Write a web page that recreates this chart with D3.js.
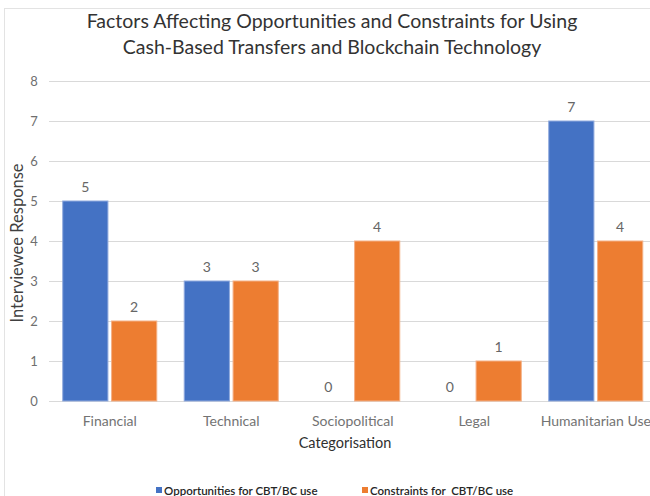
<!DOCTYPE html>
<html>
<head>
<meta charset="utf-8">
<script src="https://cdn.jsdelivr.net/npm/d3@7"></script>
<style>
  html, body { margin: 0; padding: 0; background: #fff; }
  svg { display: block; }
  text { font-family: "Lato", "Open Sans", sans-serif; }
</style>
</head>
<body>
<svg id="chart" width="650" height="496"></svg>
<script>
// Interview coding results by factor category
const categories = ["Financial", "Technical", "Sociopolitical", "Legal", "Humanitarian Use"];
const seriesNames = ["Opportunities for CBT/BC use", "Constraints for  CBT/BC use"];
const opportunities = [5, 3, 0, 0, 7];
const constraints = [2, 3, 4, 1, 4];
const yTicks = [0, 1, 2, 3, 4, 5, 6, 7, 8];
const colors = ["#4472C4", "#ED7D31"];

const svg = d3.select("#chart");
const W = 650, H = 496;
const plot = { left: 49, right: 656.5, top: 81, bottom: 401 };

// chart frame
svg.append("rect")
  .attr("x", 4.5).attr("y", 8.5).attr("width", 660).attr("height", 500)
  .attr("fill", "none").attr("stroke", "#e3e3e3");

const x0 = d3.scaleBand().domain(categories).range([plot.left, plot.right]).padding(0);
const x1 = d3.scaleBand().domain([0, 1])
  .range([x0.bandwidth() * 0.113, x0.bandwidth() * 0.887])
  .paddingInner(0.075);
const y = d3.scaleLinear().domain([0, 8]).range([plot.bottom, plot.top]);

// gridlines
svg.append("g")
  .selectAll("line").data(yTicks).join("line")
  .attr("x1", plot.left).attr("x2", W)
  .attr("y1", d => Math.round(y(d)) + 0.5).attr("y2", d => Math.round(y(d)) + 0.5)
  .attr("stroke", "#d9d9d9").attr("stroke-width", 1.2);

// y axis tick labels
const yAxis = d3.axisLeft(y).tickValues(yTicks).tickSize(0).tickPadding(0);
const gy = svg.append("g").attr("transform", `translate(${plot.left - 11},0)`).call(yAxis);
gy.select(".domain").remove();
gy.selectAll("text")
  .attr("font-family", "Lato, sans-serif").attr("font-size", 13).attr("fill", "#6f6f6f")
  .attr("text-anchor", "middle").attr("dx", -4);

// bars
const rows = categories.map((c, i) => ({ cat: c, vals: [opportunities[i], constraints[i]] }));
const groups = svg.append("g").selectAll("g").data(rows).join("g")
  .attr("transform", d => `translate(${x0(d.cat)},0)`);

groups.selectAll("rect").data(d => d.vals.map((v, k) => ({ v, k }))).join("rect")
  .attr("x", d => x1(d.k))
  .attr("width", x1.bandwidth())
  .attr("y", d => y(d.v))
  .attr("height", d => y(0) - y(d.v))
  .attr("fill", d => colors[d.k])
  .attr("stroke", d => d.k === 0 ? "#8fa9dd" : "#f4b086")
  .attr("stroke-width", d => d.v > 0 ? 1 : 0);

// value labels
groups.selectAll("text").data(d => d.vals.map((v, k) => ({ v, k }))).join("text")
  .attr("x", d => x1(d.k) + x1.bandwidth() / 2)
  .attr("y", d => y(d.v) - 9)
  .attr("text-anchor", "middle")
  .attr("font-size", 14).attr("fill", "#666666")
  .text(d => d.v);

// category labels
const xAxis = d3.axisBottom(x0).tickSize(0).tickPadding(0);
const gx = svg.append("g").attr("transform", `translate(0,${plot.bottom + 25})`).call(xAxis);
gx.select(".domain").remove();
gx.selectAll("text")
  .attr("font-family", "Lato, sans-serif").attr("font-size", 14).attr("fill", "#737373")
  .attr("dy", 0);

// axis titles
svg.append("text")
  .attr("x", 345).attr("y", 448)
  .attr("text-anchor", "middle").attr("font-size", 14.5).attr("fill", "#303030")
  .text("Categorisation");

svg.append("text")
  .attr("transform", `translate(23,${(plot.top + plot.bottom) / 2 + 2}) rotate(-90)`)
  .attr("text-anchor", "middle").attr("font-size", 16.5).attr("fill", "#404040")
  .text("Interviewee Response");

// title
const title = svg.append("text").attr("text-anchor", "middle")
  .attr("font-size", 19.5).attr("fill", "#333333");
title.append("tspan").attr("x", 332).attr("y", 28)
  .text("Factors Affecting Opportunities and Constraints for Using");
title.append("tspan").attr("x", 332).attr("y", 54)
  .text("Cash-Based Transfers and Blockchain Technology");

// legend
const legendX = [156, 362];
const legend = svg.append("g").selectAll("g").data(seriesNames).join("g")
  .attr("transform", (d, i) => `translate(${legendX[i]},487)`);
legend.append("rect").attr("width", 6).attr("height", 6)
  .attr("fill", (d, i) => colors[i]);
legend.append("text").attr("x", 8).attr("y", 7.5)
  .attr("font-family", "Open Sans, sans-serif").attr("font-weight", 600)
  .attr("font-size", 11.5).attr("fill", "#262626")
  .attr("xml:space", "preserve").style("white-space", "pre")
  .text(d => d);
</script>
</body>
</html>
